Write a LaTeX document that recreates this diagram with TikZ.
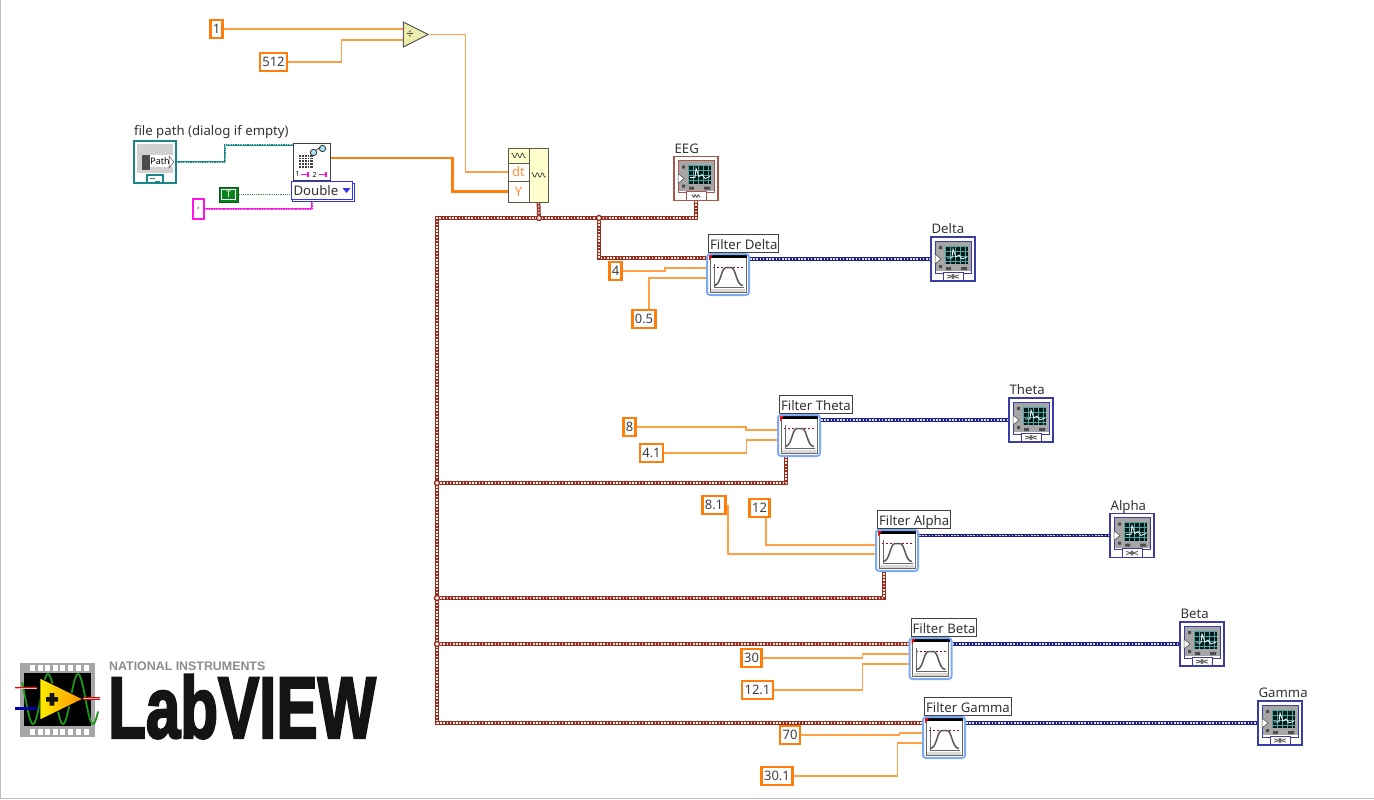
\documentclass[tikz,border=0pt]{standalone}
\usepackage{fontspec}
\setmainfont{Noto Sans}
\newfontfamily\logofont{Liberation Sans}
\newfontfamily\logoheavy[BoldFeatures={FakeBold=3}]{Liberation Sans}
\usepackage{xcolor}
\usetikzlibrary{
  arrows.meta,
  calc,
  backgrounds,
  shapes.geometric
}
\definecolor{wireorange}{RGB}{255, 160, 70}
\definecolor{constorange}{RGB}{255, 125, 10}
\definecolor{wavebrown}{RGB}{150, 45, 30}
\definecolor{sigblue}{RGB}{30, 30, 135}
\definecolor{iconblue}{RGB}{60, 60, 165}
\definecolor{pathteal}{RGB}{25, 135, 135}
\definecolor{boolgreen}{RGB}{10, 130, 30}
\definecolor{strpink}{RGB}{255, 20, 230}
\definecolor{filterblue}{RGB}{125, 170, 245}
\definecolor{ringblue}{RGB}{50, 50, 230}
\definecolor{primyellow}{RGB}{255, 255, 205}
\definecolor{primedge}{RGB}{90, 90, 70}
\definecolor{framegray}{RGB}{190, 190, 190}
\definecolor{logoink}{RGB}{20, 20, 18}
\tikzset{
  % Wires
  wirefine/.style  = {draw=wireorange, line width=1.3pt},
  wirethick/.style = {draw=constorange, line width=2.4pt},
  wirewave/.style  = {draw=wavebrown, line width=3.8pt,
    postaction={draw=white!90!wavebrown, line width=1.3pt, dash pattern=on 1.6pt off 1.6pt}},
  wiresig/.style   = {draw=sigblue, line width=3.4pt,
    postaction={draw=white!85!sigblue, line width=1.1pt, dash pattern=on 1.6pt off 1.6pt}},
  wirepath/.style  = {draw=pathteal, line width=2pt,
    postaction={draw=white!70!pathteal, line width=.6pt, dash pattern=on 1.2pt off 1.2pt}},
  wirestr/.style   = {draw=strpink, line width=2pt,
    postaction={draw=white!70!strpink, line width=.6pt, dash pattern=on 1.2pt off 1.2pt}},
  wirebool/.style  = {draw=boolgreen!80, line width=1pt, dash pattern=on 1.2pt off 1pt},
  % Terminals
  konst/.style     = {draw=constorange, line width=2.6pt, fill=white, inner xsep=2.5pt, inner ysep=0pt,
    minimum height=18pt, font=\fontsize{13}{14}\selectfont, text=black!75},
  junction/.style  = {circle, draw=wavebrown, fill=white, line width=1.4pt, inner sep=0pt, minimum size=5pt},
  lab/.style       = {font=\fontsize{13.2}{15}\selectfont, inner sep=1pt, text=black!80, anchor=south west,
    yshift=1.5pt},
  filterlabel/.style = {draw=black!75, line width=1pt, fill=white, inner xsep=1.5pt, inner ysep=0pt,
    minimum height=18pt, text height=12pt, text depth=0pt, anchor=south west,
    font=\fontsize{13.2}{15}\selectfont, text=black!80},
  wfmcell/.style   = {rectangle, draw=primedge, line width=1pt, fill=white, minimum width=21pt, inner sep=0pt,
    text=constorange!85, font=\fontsize{13}{14}\selectfont},
  % Small signs
  pics/smallwave/.style = {code={
    \draw[line width=.7pt, black!75] plot[domain=-7:7, samples=29, smooth] (\x,{2.2*sin(70*\x)});
  }},
  pics/tabcross/.style = {code={
    \draw[black!60, line width=.9pt] (-6,-1.5) -- (6,1.5) (-6,1.5) -- (6,-1.5);
    \draw[black!60, line width=.9pt] (-1,-2.5) -- (1,2.5) (-1,2.5) -- (1,-2.5);
  }},
  % Filter block with its bell curve
  filterblock/.style = {rectangle, minimum width=42pt, minimum height=41pt, inner sep=0pt,
    draw=filterblue, line width=2pt, rounded corners=3pt, fill=white,
    path picture={
      \begin{scope}[shift={(path picture bounding box.center)}, sharp corners]
        \fill[white] (-22,-22) rectangle (22,22);
        \draw[black!60, line width=1pt] (-18,-17) rectangle (18,18);
        \fill[black!15] (-17,14) rectangle (17,17);
        \fill[black] (-19,-20) rectangle (19,-16.5);
        \fill[red] (-19,-20) -- (-15,-20) -- (-19,-14) -- cycle;
        \draw[red!70!black, line width=.8pt, dash pattern=on 2pt off 2pt] (-15,-7) -- (16,-7);
        \draw[black!60, line width=.8pt] (-14,-11) -- (-14,13) -- (16,13);
        \draw[black!65, line width=1.5pt] (-14,11) .. controls (-7,11) and (-7,-7) .. (-2,-7)
          -- (3,-7) .. controls (8,-7) and (8,11) .. (15,11);
      \end{scope}
    }},
  % Graph indicator, frame colour as argument
  graphicon/.style = {rectangle, minimum size=44pt, inner sep=0pt, draw=#1, line width=1.2pt, fill=white,
    path picture={
      \begin{scope}[shift={(path picture bounding box.center)}]
        \fill[black!35] (-18,-18) rectangle (18,12);
        \draw[#1, line width=1pt] (-18,-18) rectangle (18,14);
        \fill[black!80!teal] (-8,-13) rectangle (15,5);
        \foreach \gx in {-8,-3,...,15} { \draw[teal!70, line width=.3pt] (\gx,-13) -- (\gx,5); }
        \foreach \gy in {-13,-8,...,5} { \draw[teal!70, line width=.3pt] (-8,\gy) -- (15,\gy); }
        \draw[white, line width=.8pt] (-6,-1) -- (-1,-1) -- (0,-10) -- (3,-2) -- (6,-4) -- (9,0) -- (14,-2);
        \draw[black!75, fill=white, line width=.5pt] (-18,-5) -- (-12,0) -- (-18,5) -- cycle;
        \fill[black!70] (-14,-13) rectangle (-11,-10) (-14,6) rectangle (-11,9);
        \fill[black!70] (-7,8) rectangle (-2,11) (8,8) rectangle (14,11);
        \draw[#1, fill=white, line width=1pt] (-10,22) -- (-10,13) -- (10,13) -- (10,22);
      \end{scope}
    }},
  % File path terminal
  pathicon/.style = {rectangle, minimum size=42pt, inner sep=0pt, draw=pathteal, line width=2.4pt, fill=white,
    path picture={
      \begin{scope}[shift={(path picture bounding box.center)}]
        \fill[black!18] (-18,-18) rectangle (18,11);
        \fill[white] (-5,-7) rectangle (18,5);
        \fill[black!70] (-13,-7) rectangle (-5,8);
        \draw[black!70, fill=white, line width=.5pt] (14,-6) -- (19,0) -- (14,6) -- cycle;
        \draw[pathteal, fill=white, line width=1.4pt] (-8,22) -- (-8,13) -- (8,13) -- (8,22);
        \draw[pathteal, line width=1pt] (-5,16) -- (0,16) (0,19) -- (5,19);
        \node[font=\fontsize{9}{10}\selectfont, text=black, inner sep=0pt] at (5,-1) {Path};
      \end{scope}
    }},
  % Read from file function
  readicon/.style = {rectangle, minimum size=37pt, inner sep=0pt, draw=black!75, line width=1pt, fill=white,
    path picture={
      \begin{scope}[shift={(path picture bounding box.center)}]
        \fill[black!75] (-13,-7) rectangle (1,6);
        \foreach \gx in {-10.2,-7.4,...,0} { \draw[white, line width=.5pt] (\gx,-7) -- (\gx,6); }
        \foreach \gy in {-4.4,-1.8,...,5} { \draw[white, line width=.5pt] (-13,\gy) -- (1,\gy); }
        \draw[black!80, fill=cyan!35, line width=.8pt] (2,-9) circle (3.2) (11,-13) circle (3.2);
        \draw[black!80, line width=.7pt] (4,-11) -- (9,-14);
        \draw[strpink, line width=1.2pt, -{Bar[width=5pt]}] (-11,13) -- (-3,13);
        \draw[strpink, line width=1.2pt, -{Bar[width=5pt]}] (7,13) -- (15,13);
        \node[font=\bfseries\fontsize{7}{8}\selectfont, inner sep=0pt] at (-14,13) {1};
        \node[font=\bfseries\fontsize{7}{8}\selectfont, inner sep=0pt] at (3,13) {2};
      \end{scope}
    }},
  % Ring constant
  ringk/.style = {rectangle, draw=ringblue, line width=1pt, fill=white, minimum height=18pt, text width=57pt,
    inner xsep=2pt, inner ysep=0pt, align=left, font=\fontsize{13.2}{15}\selectfont, text=black!80,
    path picture={
      \fill[ringblue] ([xshift=-10pt,yshift=2.5pt]path picture bounding box.east) -- ++(8,0) -- ++(-4,5) -- cycle;
    }},
  boolk/.style = {rectangle, minimum width=19pt, minimum height=15pt, inner sep=0pt, draw=boolgreen!70!black,
    line width=1pt, fill=boolgreen, text=white, font=\bfseries\fontsize{9}{10}\selectfont,
    path picture={
      \draw[white, line width=.8pt] ([shift={(2.5pt,-2.5pt)}]path picture bounding box.north west)
        rectangle ([shift={(-2.5pt,2.5pt)}]path picture bounding box.south east);
    }},
}
\begin{document}
\begin{tikzpicture}[x=1pt, y=-1pt]
  \useasboundingbox (0,0) rectangle (1374,800);
  \draw[framegray, line width=1.2pt] (0.6,0) -- (0.6,798.4) -- (1374,798.4);

  % Timing constants and divide
  \node[konst] (kone) at (216.5,29) {1};
  \node[konst] (kfive) at (273.5,62) {512};
  \node[isosceles triangle, isosceles triangle stretches, minimum width=25pt, minimum height=25pt, inner sep=0pt,
    draw=black!65, line width=1pt, fill=primyellow!85!olive] (fdiv) at (411,34.5) {};
  \node[font=\fontsize{13}{14}\selectfont, inner sep=0pt, text=black!80] (ldiv) at (410,34.5) {÷};

  % File reading
  \node[pathicon] (fpath) at (155,162) {};
  \node[lab, yshift=-2pt] (lpath) at (fpath.north west) {file path (dialog if empty)};
  \node[readicon] (fread) at (311.5,161.5) {};
  \node[rectangle, draw=ringblue, line width=1pt, fill=white, minimum width=62pt, minimum height=18pt] (fdoubleb) at (323.5,192) {};
  \node[ringk] (fdouble) at (322,190.5) {Double};
  \node[boolk] (ktrue) at (228.5,194.5) {T};
  \node[rectangle, draw=strpink, line width=2.6pt, fill=white, minimum width=11pt, minimum height=20pt, inner sep=0pt,
    font=\fontsize{8}{9}\selectfont] (kdelim) at (198.5,209) {,};

  % Build waveform
  \node[rectangle, draw=primedge, line width=1pt, fill=primyellow, minimum width=19pt, minimum height=54pt, inner sep=0pt]
    (wfmout) at (538.5,175) {};
  \node[wfmcell, fill=primyellow, minimum height=15pt] (wfmtop) at (518.5,155.5) {};
  \node[wfmcell, minimum height=18pt] (wfmdt) at (518.5,172) {dt};
  \node[wfmcell, minimum height=21pt] (wfmy) at (518.5,191.5) {Y};
  \pic at (518.5,155.5) {smallwave};
  \pic at (538.5,175) {smallwave};

  % Filters
  \node[filterblock] (fdelta) at (728,274.5) {};
  \node[filterlabel] (ldelta) at ([xshift=2pt]fdelta.north west) {Filter Delta};
  \node[filterblock] (ftheta) at (799,435.5) {};
  \node[filterlabel] (ltheta) at ([xshift=2pt]ftheta.north west) {Filter Theta};
  \node[filterblock] (falpha) at (897,550.5) {};
  \node[filterlabel] (lalpha) at ([xshift=2pt]falpha.north west) {Filter Alpha};
  \node[filterblock] (fbeta) at (930.5,658.5) {};
  \node[filterlabel] (lbeta) at ([xshift=2pt]fbeta.north west) {Filter Beta};
  \node[filterblock] (fgamma) at (944,737.5) {};
  \node[filterlabel] (lgamma) at ([xshift=2pt]fgamma.north west) {Filter Gamma};

  % Graphs
  \node[graphicon=wavebrown!80] (geeg) at (696,178.5) {};
  \node[lab] (leeg) at (geeg.north west) {EEG};
  \pic[scale=.6] at (696,196) {smallwave};
  \node[graphicon=iconblue] (gdelta) at (953,259) {};
  \node[lab] (ldeltag) at (gdelta.north west) {Delta};
  \pic at (953,276.5) {tabcross};
  \node[graphicon=iconblue] (gtheta) at (1031,420) {};
  \node[lab] (lthetag) at (gtheta.north west) {Theta};
  \pic at (1031,437.5) {tabcross};
  \node[graphicon=iconblue] (galpha) at (1132,535.5) {};
  \node[lab, yshift=-3pt] (lalphag) at (galpha.north west) {Alpha};
  \pic at (1132,553) {tabcross};
  \node[graphicon=iconblue] (gbeta) at (1202,644) {};
  \node[lab] (lbetag) at (gbeta.north west) {Beta};
  \pic at (1202,661.5) {tabcross};
  \node[graphicon=iconblue] (ggamma) at (1280,723) {};
  \node[lab] (lgammag) at (ggamma.north west) {Gamma};
  \pic at (1280,740.5) {tabcross};

  % Cut-off constants
  \node[konst] (kdhi) at (615.5,271) {4};
  \node[konst] (kdlo) at (644,319) {0.5};
  \node[konst] (kthi) at (629.5,427) {8};
  \node[konst] (ktlo) at (651.5,453) {4.1};
  \node[konst] (kalo) at (714,505) {8.1};
  \node[konst] (kahi) at (759.5,508) {12};
  \node[konst] (kbhi) at (751.5,658) {30};
  \node[konst] (kblo) at (757.5,690) {12.1};
  \node[konst] (kghi) at (790,735) {70};
  \node[konst] (kglo) at (777,776) {30.1};

  % Junctions
  \coordinate (jtop) at (437,218);
  \node[junction] (jwfm) at (539,218) {};
  \node[junction] (jsplit) at (599,218) {};
  \node[junction] (jtheta) at (437,483) {};
  \node[junction] (jalpha) at (437,598) {};
  \node[junction] (jbeta) at (437,644) {};

  \begin{scope}[on background layer]
    % Orange wires
    \draw[wirefine] (kone.east) -- (kone.east -| fdiv.west);
    \draw[wirefine] (kfive.east) -- ++(53,0) |- ([yshift=-5.5pt]fdiv.west);
    \draw[wirefine] (fdiv.apex) -- ++(36,0) |- (wfmdt.west);
    \draw[wirethick] ([yshift=3.5pt]fread.east) -- ++(122,0) |- (wfmy.west);
    \draw[wirefine] (kdhi.east) -- ++(42,0) |- ([yshift=-15pt]fdelta.north west);
    \draw[wirefine] ([xshift=5pt]kdlo.north) |- ([yshift=-25pt]fdelta.north west);
    \draw[wirefine] (kthi.east) -- ++(109,0) |- ([yshift=-16pt]ftheta.north west);
    \draw[wirefine] (ktlo.east) -- ++(82,0) |- ([yshift=-26pt]ftheta.north west);
    \draw[wirefine] ([xshift=14pt]kalo.center) |- ([yshift=-25pt]falpha.north west);
    \draw[wirefine] ([xshift=6.5pt]kahi.south) |- ([yshift=-16pt]falpha.north west);
    \draw[wirefine] (kbhi.east) -- ++(100,0) |- ([yshift=-17pt]fbeta.north west);
    \draw[wirefine] (kblo.east) -- ++(88,0) |- ([yshift=-27pt]fbeta.north west);
    \draw[wirefine] (kghi.east) -- ++(98,0) |- ([yshift=-17pt]fgamma.north west);
    \draw[wirefine] (kglo.east) -- ++(104,0) |- ([yshift=-27pt]fgamma.north west);
    % File path, boolean, delimiter
    \draw[wirepath] (fpath.east) -- ++(48,0) |- ([yshift=-2pt]fread.north west);
    \draw[wirebool] (ktrue.east) -- (ktrue.east -| fdouble.west);
    \draw[wirestr] (kdelim.east) -| ([xshift=-10pt]fdouble.south);
    % Waveform wires
    \draw[wirewave] (geeg.south) |- (jtop) |- ([yshift=-7pt]fgamma.north west);
    \draw[wirewave] (wfmout.south) -- (jwfm);
    \draw[wirewave] (jsplit) |- ([yshift=-5pt]fdelta.north west);
    \draw[wirewave] (jtheta) -| ([xshift=-13pt]ftheta.south);
    \draw[wirewave] (jalpha) -| ([xshift=-13pt]falpha.south);
    \draw[wirewave] (jbeta) -- (jbeta -| fbeta.west);
    % Filtered signals
    \draw[wiresig] (fdelta.east |- gdelta.west) -- (gdelta.west);
    \draw[wiresig] (ftheta.east |- gtheta.west) -- (gtheta.west);
    \draw[wiresig] (falpha.east |- galpha.west) -- (galpha.west);
    \draw[wiresig] (fbeta.east |- gbeta.west) -- (gbeta.west);
    \draw[wiresig] (fgamma.east |- ggamma.west) -- (ggamma.west);
  \end{scope}

  % Logo
  \fill[black!35] (20,663) rectangle (95,737);
  \foreach \hx in {32,40,47,55,62,70,78,86} {
    \fill[white] (\hx-2.5,665) rectangle (\hx+2.5,671);
    \fill[white] (\hx-2.5,729) rectangle (\hx+2.5,735);
  }
  \fill[black] (24,673) rectangle (91,726);
  \draw[green!55!black!90, line width=1.8pt] plot[domain=22:98, samples=80, smooth] (\x,{699-25*cos(12*(\x-48))});
  \draw[red, line width=2.6pt] (15,688) -- (37,688);
  \draw[white!70!red, line width=.7pt] (15,688) -- (37,688);
  \draw[blue!65!black, line width=2.6pt] (15,708.5) -- (37,708.5);
  \draw[red!85!black, line width=2.6pt] (83,698.5) -- (100,698.5);
  \draw[white!70!red, line width=.7pt] (83,698.5) -- (100,698.5);
  \draw[black, line width=.8pt, left color=yellow!85!orange, right color=orange!85!yellow]
    (40,678) -- (83,699) -- (40,720) -- cycle;
  \fill[logoink] (46,697) rectangle (58,701.5) (49.7,693) rectangle (54.3,705.5);
  \node[anchor=south west, inner sep=0pt, text=black!45] (lni) at (109,671)
    {\logofont\bfseries\fontsize{12.4}{14}\selectfont NATIONAL INSTRUMENTS};
  \node[anchor=south west, inner sep=0pt, text=logoink] (llabview) at (108,738)
    {\raisebox{0pt}[62pt][0pt]{\scalebox{.71}[1]{\logoheavy\bfseries\fontsize{87}{90}\selectfont LabVIEW}}};
\end{tikzpicture}
\end{document}
